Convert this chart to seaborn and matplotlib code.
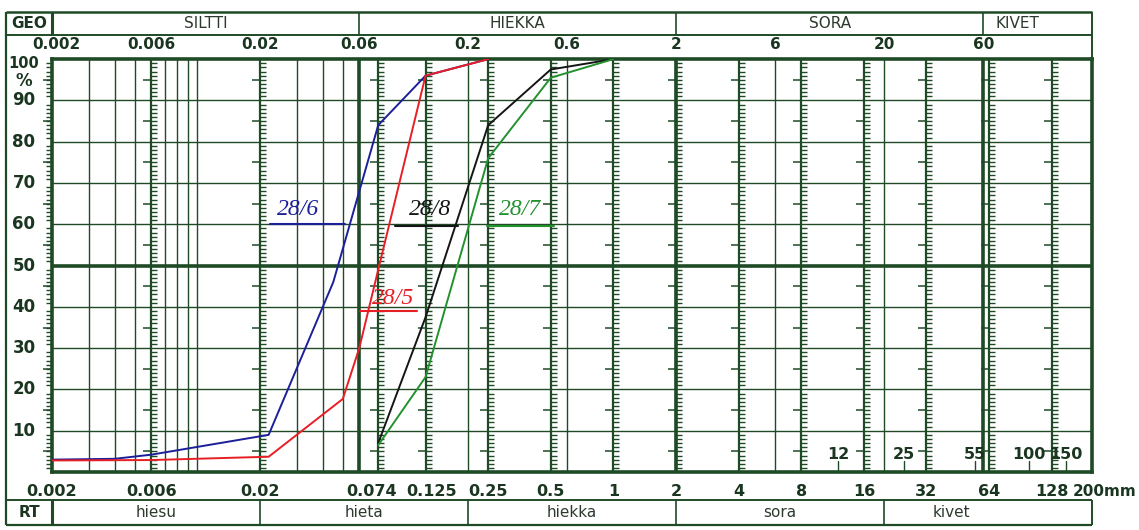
import matplotlib
matplotlib.use("Agg")
import matplotlib.pyplot as plt
import seaborn as sns
import pandas as pd
import numpy as np
from matplotlib.path import Path
from matplotlib.transforms import blended_transform_factory

# ---------------- data ----------------
blue_d = [0.002, 0.004, 0.006, 0.022, 0.045, 0.074, 0.125, 0.25]
blue_p = [3.0, 3.2, 4.2, 9.0, 46.0, 84.0, 96.0, 100.0]
red_d = [0.002, 0.006, 0.022, 0.05, 0.06, 0.074, 0.1, 0.125, 0.25]
red_p = [2.8, 2.9, 3.7, 17.7, 30.0, 49.0, 76.0, 96.0, 100.0]
black_d = [0.074, 0.125, 0.25, 0.5, 1.0]
black_p = [7.0, 37.5, 84.0, 97.5, 100.0]
green_d = [0.074, 0.125, 0.25, 0.5, 1.0]
green_p = [6.5, 23.0, 76.0, 95.5, 100.0]
sample_names = ["28/6", "28/5", "28/8", "28/7"]
sample_colors = ["#1c1f9a", "#e81e25", "#151515", "#23912e"]

top_ticks = [0.002, 0.006, 0.02, 0.06, 0.2, 0.6, 2, 6, 20, 60]
top_labels = ["0.002", "0.006", "0.02", "0.06", "0.2", "0.6", "2", "6", "20", "60"]
bottom_ticks = [0.002, 0.006, 0.02, 0.074, 0.125, 0.25, 0.5, 1, 2, 4, 8, 16, 32, 64, 128, 200]
bottom_labels = ["0.002", "0.006", "0.02", "0.074", "0.125", "0.25", "0.5", "1", "2", "4",
                 "8", "16", "32", "64", "128", "200mm"]
y_ticks = [90, 80, 70, 60, 50, 40, 30, 20, 10]
small_marks = [12, 25, 55, 100, 150]

geo_bounds = [0.002, 0.06, 2, 60, 200]
geo_names = ["SILTTI", "HIEKKA", "SORA", "KIVET"]
geo_text_x = [0.011, 0.346, 10.95, 88]
rt_bounds = [0.002, 0.02, 0.2, 2, 20, 200]
rt_names = ["hiesu", "hieta", "hiekka", "sora", "kivet"]
rt_text_x = [0.0063, 0.063, 0.632, 6.3, 42]

thin_v = [0.003, 0.004, 0.005, 0.007, 0.008, 0.009, 0.01, 0.03, 0.04, 0.05, 0.2, 0.6, 6, 20]
thick_v = [0.06, 2, 60]
ticked_v = [0.006, 0.02, 0.074, 0.125, 0.25, 0.5, 1, 2, 4, 8, 16, 32, 64, 128]

# handwritten labels: (text, x, y, colour, underline x0, x1, underline y)
hand = [("28/6", 0.0305, 63.5, "#1c1f9a", 0.0223, 0.0513, 60.0),
        ("28/8", 0.131, 63.5, "#151515", 0.0891, 0.179, 59.5),
        ("28/7", 0.356, 63.5, "#23912e", 0.247, 0.52, 59.5),
        ("28/5", 0.0873, 42.0, "#e81e25", 0.0605, 0.114, 39.0)]

GRID = "#1f4a26"
TXT = "#1b3620"

sns.set_theme(style="white")
plt.rcParams["font.family"] = ["DejaVu Sans"]

fig = plt.figure(figsize=(11.39, 5.30), dpi=100)
fig.patch.set_facecolor("white")
ax = fig.add_axes([0.0457, 0.1094, 0.913, 0.779])
ax.set_facecolor("white")
ax.set_xscale("log")
ax.set_xlim(0.002, 200)
ax.set_ylim(0, 100)
ax.xaxis.set_major_locator(matplotlib.ticker.NullLocator())
ax.xaxis.set_minor_locator(matplotlib.ticker.NullLocator())
ax.yaxis.set_major_locator(matplotlib.ticker.NullLocator())
for s in ax.spines.values():
    s.set_color(GRID)
    s.set_linewidth(2.6)

# grid
for y in range(10, 100, 10):
    ax.axhline(y, color=GRID, lw=2.6 if y == 50 else 1.0, zorder=1)
for x in thin_v:
    ax.axvline(x, color=GRID, lw=1.0, zorder=1)
for x in thick_v:
    ax.axvline(x, color=GRID, lw=2.6, zorder=1)
for x in ticked_v:
    ax.axvline(x, color=GRID, lw=1.6, zorder=1)

right_hash = Path([(0, 0), (1, 0)], [Path.MOVETO, Path.LINETO])
left_hash = Path([(-1, 0), (0, 0)], [Path.MOVETO, Path.LINETO])
hash_y = [v for v in range(1, 100) if v % 10 != 0]
five_y = list(range(5, 100, 10))
for x in ticked_v:
    ax.plot([x] * len(hash_y), hash_y, ls="none", marker=right_hash, ms=8,
            mew=1.0, color=GRID, zorder=2)
    ax.plot([x] * len(five_y), five_y, ls="none", marker=left_hash, ms=12,
            mew=1.1, color=GRID, zorder=2)
ax.plot([0.002] * len(hash_y), hash_y, ls="none", marker=left_hash, ms=8,
        mew=1.0, color=GRID, zorder=2, clip_on=False)
ax.plot([0.002] * len(five_y), five_y, ls="none", marker=left_hash, ms=13,
        mew=1.1, color=GRID, zorder=2, clip_on=False)

# small marks lower right
for v, lab in zip(small_marks, [str(m) for m in small_marks]):
    ax.plot([v, v], [0, 2.6], color=GRID, lw=1.0, zorder=2)
    ax.text(v, 2.4, lab, ha="center", va="bottom", fontsize=11.5,
            fontweight="bold", color=TXT, zorder=3)

# curves
df = pd.concat([
    pd.DataFrame({"d": dd, "p": pp, "sample": nm})
    for dd, pp, nm in zip([blue_d, red_d, black_d, green_d],
                          [blue_p, red_p, black_p, green_p],
                          ["28/6", "28/5", "28/8", "28/7"])
], ignore_index=True)
sns.lineplot(data=df, x="d", y="p", hue="sample", hue_order=sample_names,
             palette=dict(zip(sample_names, sample_colors)), sort=False,
             estimator=None, legend=False, lw=1.4, ax=ax, zorder=5)
ax.set_xlabel("")
ax.set_ylabel("")

# handwritten labels
for txt, x, y, col, u0, u1, uy in hand:
    ax.text(x, y, txt, color=col, fontsize=17, fontstyle="italic",
            family="Liberation Serif", ha="center", va="center", zorder=6)
    ax.plot([u0, u1], [uy, uy], color=col, lw=1.5, zorder=6)

# ---------------- outside frame / bands ----------------
bt = blended_transform_factory(ax.transData, ax.transAxes)
L = -0.0442
TOP1, TOP0, ROW = 1.1138, 1.058, 1.036
BOT0, BOT1 = -0.0678, -0.128

def axline(xs, ys, lw=1.4, tr=None):
    ax.plot(xs, ys, color=GRID, lw=lw, transform=tr or ax.transAxes,
            clip_on=False, zorder=4, solid_capstyle="butt")

axline([L, L], [BOT1, TOP1], lw=1.6)
axline([L, 1], [TOP1, TOP1], lw=1.8)
axline([L, 1], [TOP0, TOP0], lw=1.4)
axline([1, 1], [1.0, TOP1], lw=1.4)
axline([0, 0], [TOP0, TOP1], lw=2.2)
for b in geo_bounds[1:-1]:
    axline([b, b], [TOP0, TOP1], lw=1.2, tr=bt)
axline([L, 1], [BOT0, BOT0], lw=1.4)
axline([L, 1], [BOT1, BOT1], lw=1.6)
axline([1, 1], [BOT1, BOT0], lw=1.4)
axline([0, 0], [BOT1, BOT0], lw=2.2)
for b in rt_bounds[1:-1]:
    axline([b, b], [BOT1, BOT0], lw=1.2, tr=bt)

ax.text(L / 2, (TOP0 + TOP1) / 2, "GEO", transform=ax.transAxes, ha="center",
        va="center", fontsize=11, fontweight="bold", color=TXT)
ax.text(L / 2, (BOT0 + BOT1) / 2, "RT", transform=ax.transAxes, ha="center",
        va="center", fontsize=11, fontweight="bold", color=TXT)
for nm, x in zip(geo_names, geo_text_x):
    ax.text(x, (TOP0 + TOP1) / 2, nm, transform=bt, ha="center", va="center",
            fontsize=11, color="#2c3a2e")
for nm, x in zip(rt_names, rt_text_x):
    ax.text(x, (BOT0 + BOT1) / 2, nm, transform=bt, ha="center", va="center",
            fontsize=11, color="#2c3a2e")

top_off = {"0.002": 3}
for x, lab in zip(top_ticks, top_labels):
    ax.annotate(lab, xy=(x, ROW), xycoords=bt, xytext=(top_off.get(lab, 0), 0),
                textcoords="offset points", ha="center", va="center", fontsize=11,
                fontweight="bold", color=TXT, annotation_clip=False)

offsets = {"0.074": -5, "0.125": 4, "200mm": 9}
for x, lab in zip(bottom_ticks, bottom_labels):
    ax.annotate(lab, xy=(x, -0.046), xycoords=bt, xytext=(offsets.get(lab, 0), 0),
                textcoords="offset points", ha="center", va="center",
                fontsize=11.5 if lab != "200mm" else 11, fontweight="bold",
                color=TXT, annotation_clip=False)

yt = blended_transform_factory(ax.transAxes, ax.transData)
ylx = -0.027
for y in y_ticks:
    ax.text(ylx, y, str(y), transform=yt, ha="center", va="center", fontsize=12,
            fontweight="bold", color=TXT)
ax.text(ylx, 99.0, "100", transform=yt, ha="center", va="center", fontsize=10.5,
        fontweight="bold", color=TXT)
ax.text(ylx, 94.8, "%", transform=yt, ha="center", va="center", fontsize=12,
        fontweight="bold", color=TXT)

fig.savefig("out.png", dpi=100, facecolor="white")
